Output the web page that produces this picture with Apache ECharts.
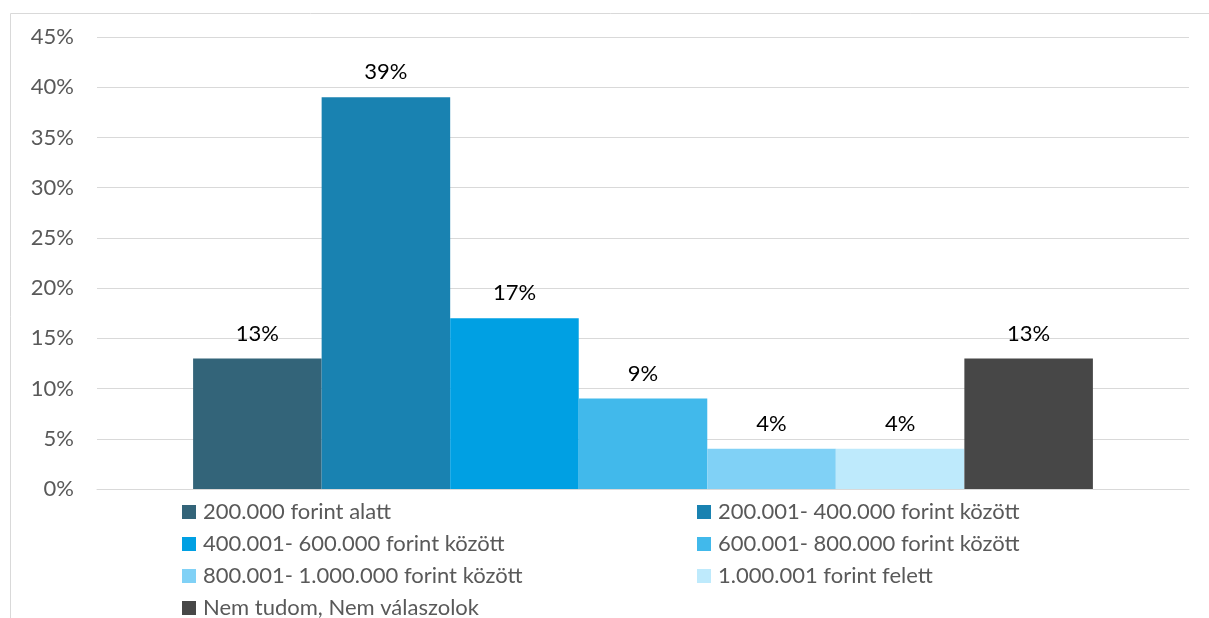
<!DOCTYPE html>
<html><head><meta charset="utf-8">
<script src="https://cdn.jsdelivr.net/npm/echarts@6/dist/echarts.min.js"></script>
<style>html,body{margin:0;padding:0;background:#fff}#c{width:1209px;height:618px}</style>
</head><body><div id="c"></div>
<script>
const seriesNames = ["200.000 forint alatt","200.001- 400.000 forint között","400.001- 600.000 forint között","600.001- 800.000 forint között","800.001- 1.000.000 forint között","1.000.001 forint felett","Nem tudom, Nem válaszolok"];
const values = [13, 39, 17, 9, 4, 4, 13];
const colors = ["#336479","#1982B1","#00A0E3","#41B9EB","#80D1F6","#BEEAFC","#474747"];
const yTicks = [0,5,10,15,20,25,30,35,40,45];

const chart = echarts.init(document.getElementById('c'));
const font = "Lato, 'Open Sans', sans-serif";
const legendCommon = {orient:'vertical',top:499,height:200,padding:0,itemWidth:14,itemHeight:14,itemGap:6,icon:'rect',
  textStyle:{color:'#595959',fontSize:22,lineHeight:26,fontFamily:font,padding:[0,0,0,2]}};
chart.setOption({
  animation:false,
  graphic:[{type:'rect',shape:{x:10.5,y:13.5,width:1300,height:700},style:{fill:'none',stroke:'#d9d9d9',lineWidth:1}}],
  grid:{left:97,right:20,top:37,bottom:129},
  xAxis:{type:'category',data:[''],axisTick:{show:false},axisLabel:{show:false},axisLine:{lineStyle:{color:'#d9d9d9'}}},
  yAxis:{type:'value',min:yTicks[0],max:yTicks[yTicks.length-1],interval:5,
    axisLabel:{formatter:v=>v+'%',color:'#595959',fontSize:22,margin:23,fontFamily:font},
    splitLine:{lineStyle:{color:'#d9d9d9'}},axisLine:{show:false},axisTick:{show:false}},
  legend:[
    Object.assign({data:[seriesNames[0],seriesNames[2],seriesNames[4],seriesNames[6]],left:182}, legendCommon),
    Object.assign({data:[seriesNames[1],seriesNames[3],seriesNames[5]],left:697}, legendCommon)
  ],
  series: seriesNames.map((n,i)=>({name:n,type:'bar',data:[values[i]],barGap:'0%',barCategoryGap:'17.6%',
    itemStyle:{color:colors[i]},
    label:{show:true,position:'top',distance:14,formatter:p=>p.value+'%',color:'#000',fontSize:22,fontFamily:font}}))
});
</script></body></html>
